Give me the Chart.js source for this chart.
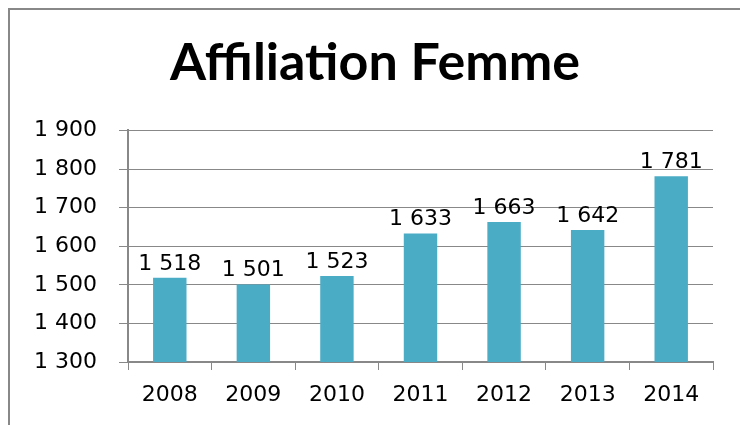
<!DOCTYPE html>
<html>
<head>
<meta charset="utf-8">
<script src="https://cdn.jsdelivr.net/npm/chart.js@4"></script>
<style>
  html, body { margin: 0; padding: 0; background: #fff; }
  #wrap { position: relative; width: 740px; height: 425px; overflow: hidden; }
  #frame { position: absolute; left: 8px; top: 8px; width: 800px; height: 500px; border: 2px solid #888; }
  canvas { position: absolute; left: 0; top: 0; }
</style>
</head>
<body>
<div id="wrap">
  <div id="frame"></div>
  <canvas id="chart" width="740" height="425"></canvas>
</div>
<script>
// données
const years = ['2008', '2009', '2010', '2011', '2012', '2013', '2014'];
const affiliations = [1518, 1501, 1523, 1633, 1663, 1642, 1781];
const chartTitle = 'Affiliation Femme';

// séparateur des milliers avec une espace ("1 518")
function fmt(v) {
    return String(v).replace(/\B(?=(\d{3})+(?!\d))/g, ' ');
}

// étiquettes de valeurs au-dessus des barres
const valueLabels = {
    id: 'valueLabels',
    afterDatasetsDraw(chart) {
        const ctx = chart.ctx;
        const meta = chart.getDatasetMeta(0);
        ctx.save();
        ctx.font = '22px "DejaVu Sans"';
        ctx.fillStyle = '#000';
        ctx.textAlign = 'center';
        ctx.textBaseline = 'bottom';
        meta.data.forEach((bar, i) => {
            ctx.fillText(fmt(chart.data.datasets[0].data[i]), bar.x, bar.y - 3);
        });
        ctx.restore();
    }
};

new Chart(document.getElementById('chart'), {
    type: 'bar',
    data: {
        labels: years,
        datasets: [{
            data: affiliations,
            backgroundColor: '#4bacc6',
            categoryPercentage: 1,
            barPercentage: 0.4
        }]
    },
    options: {
        responsive: false,
        animation: false,
        layout: { padding: { left: 10, right: 0, top: 0, bottom: 0 } },
        plugins: {
            legend: { display: false },
            tooltip: { enabled: false },
            title: {
                display: true,
                text: chartTitle,
                color: '#000',
                font: { family: 'Lato', size: 52, weight: 'bold' },
                padding: { top: 32, bottom: 36 }
            }
        },
        scales: {
            x: {
                afterFit: (s) => { s.height = 63; },
                grid: { drawOnChartArea: false, drawTicks: true, tickLength: 8, color: '#888' },
                border: { display: true, color: '#888', width: 2 },
                ticks: { color: '#000', padding: 12, font: { family: 'DejaVu Sans', size: 22 } }
            },
            y: {
                min: 1300,
                max: 1900,
                afterFit: (s) => { s.width = 118; },
                grid: { color: '#888', lineWidth: 1, tickLength: 9 },
                border: { display: true, color: '#888', width: 2 },
                ticks: {
                    stepSize: 100,
                    color: '#000',
                    padding: 22,
                    font: { family: 'DejaVu Sans', size: 22 },
                    callback: (v) => fmt(v)
                }
            },
            // marge droite (axe vide) pour garder le titre centré sur tout le cadre
            right: {
                position: 'right',
                min: 1300,
                max: 1900,
                afterFit: (s) => { s.width = 27; },
                grid: { display: false },
                border: { display: false },
                ticks: { display: false }
            }
        }
    },
    plugins: [valueLabels]
});
</script>
</body>
</html>
